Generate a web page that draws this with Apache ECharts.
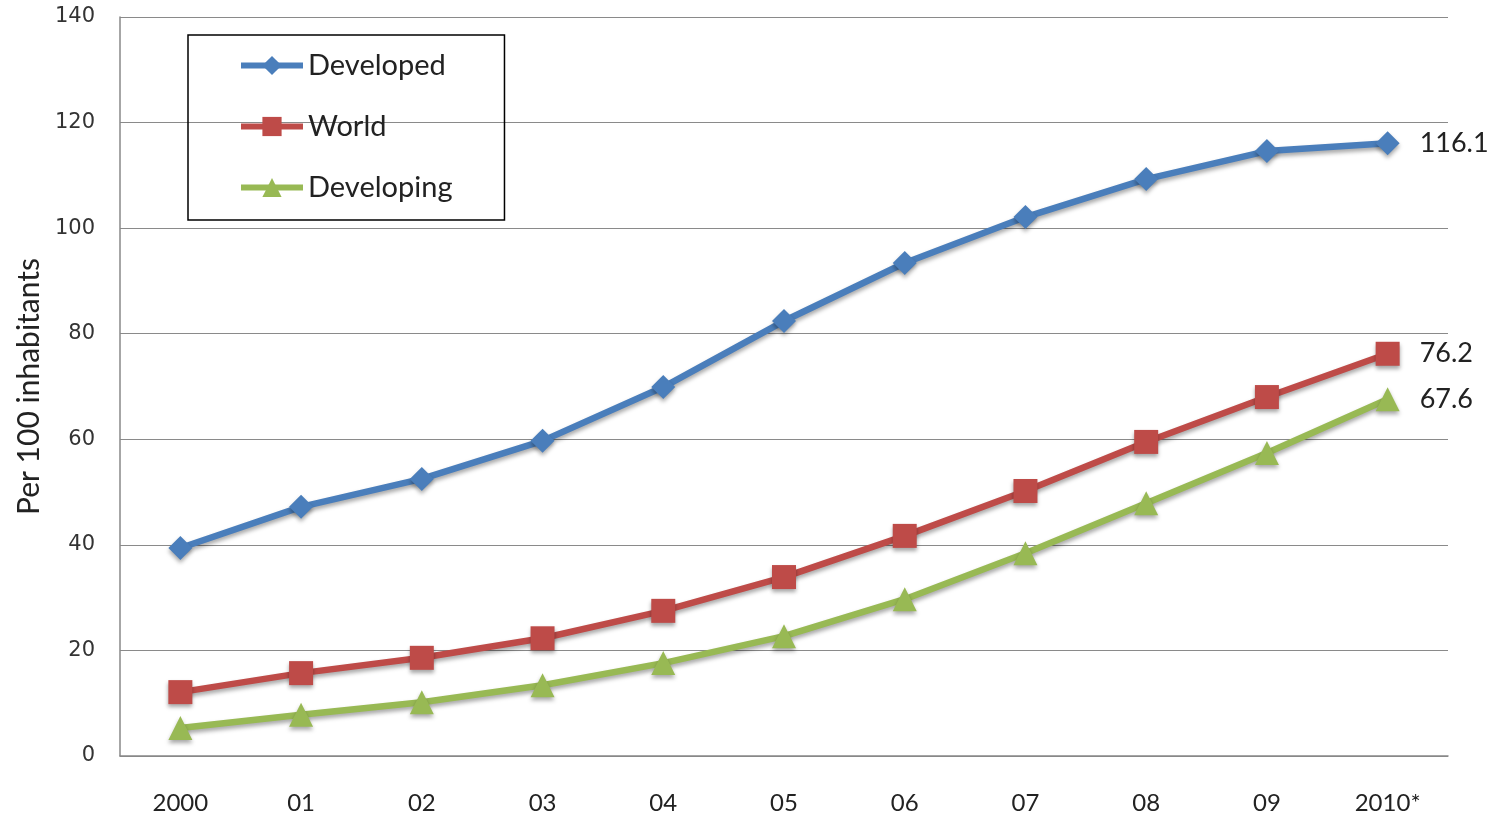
<!DOCTYPE html>
<html><head><meta charset="utf-8">
<script src="https://cdn.jsdelivr.net/npm/echarts@6/dist/echarts.min.js"></script>
<style>html,body{margin:0;padding:0;background:#fff}#c{width:1494px;height:818px}</style>
</head><body><div id="c"></div>
<script>
const categories = ['2000','01','02','03','04','05','06','07','08','09','2010*'];
const developed = [39.4,47.2,52.5,59.7,69.9,82.4,93.4,102.1,109.3,114.6,116.1];
const world = [12.1,15.7,18.6,22.3,27.5,33.9,41.7,50.2,59.5,68.0,76.2];
const developing = [5.3,7.8,10.2,13.4,17.6,22.7,29.7,38.4,47.9,57.4,67.6];
const yTicks = [0,20,40,60,80,100,120,140];

const chart = echarts.init(document.getElementById('c'));
function mk(name, data, color, symbol, size) {
  const n = data.length;
  return {
    name, type: 'line', data: data.map((v,i)=> i===n-1 ? {value:v, label:{show:true}} : v),
    symbol, symbolSize: size, showSymbol: true,
    itemStyle: {color, shadowColor:'rgba(0,0,0,0.35)', shadowBlur:4, shadowOffsetY:3},
    lineStyle: {color, width: 6.5, shadowColor:'rgba(0,0,0,0.35)', shadowBlur:4, shadowOffsetY:3},
    label: {show:false, position:'right', distance: 20, fontFamily:'Lato', fontSize:27, color:'#222',
      formatter: p => p.value.toFixed(1)},
    emphasis:{disabled:true}, animation:false
  };
}
chart.setOption({
  animation:false,
  grid:{left:120, right:46, top:17, bottom:62},
  legend:{
    orient:'vertical', left:188, top:35,
    padding:[15,52,17,50], itemGap:30, itemWidth:62, itemHeight:24, itemTextGap:1,
    borderColor:'#000', borderWidth:1.5,
    lineStyle:{width:6},
    itemStyle:{shadowBlur:0, shadowOffsetY:0},
    textStyle:{fontFamily:'Lato', fontSize:29, color:'#222', lineHeight:31},
    data:['Developed','World','Developing']
  },
  xAxis:{type:'category', data:categories, boundaryGap:true,
    axisLine:{lineStyle:{color:'#888', width:1.5}}, axisTick:{show:false},
    axisLabel:{fontFamily:'Lato', fontSize:24, color:'#222', margin:35}},
  yAxis:{type:'value', min:0, max:140, interval:20,
    name:'Per 100 inhabitants', nameLocation:'middle', nameGap:76, nameRotate:90,
    nameTextStyle:{fontFamily:'Lato', fontSize:30, color:'#222'},
    axisLine:{show:true, lineStyle:{color:'#888', width:1.5}}, axisTick:{show:false},
    axisLabel:{fontFamily:'DejaVu Sans', fontSize:21, color:'#333', margin:25,
      formatter: v => yTicks.includes(v) ? String(v) : ''},
    splitLine:{lineStyle:{color:'#8a8a8a', width:1}}},
  series:[
    mk('Developed', developed, '#4a7ebb', 'diamond', 24),
    mk('World', world, '#be4b48', 'rect', 24),
    mk('Developing', developing, '#98b954', 'triangle', 24)
  ]
});
</script></body></html>
